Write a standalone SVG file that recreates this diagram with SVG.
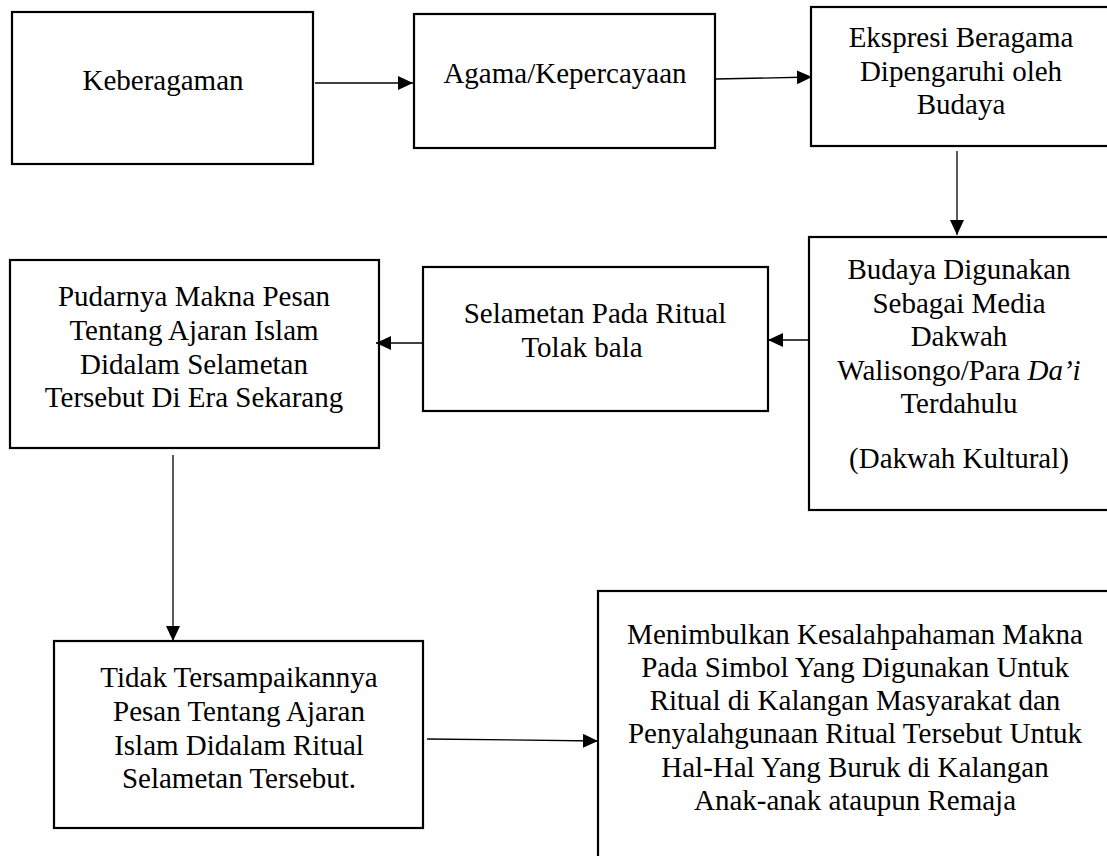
<svg xmlns="http://www.w3.org/2000/svg" width="1107" height="856" viewBox="0 0 1107 856">
<style>
.box{fill:#fff;stroke:#000;stroke-width:2.2}
.t{font-family:'Liberation Serif','Times New Roman',Times,'DejaVu Serif',serif;font-size:29px;fill:#000;text-anchor:middle}
.c{stroke:#000;stroke-width:1.3;fill:none;marker-end:url(#ah)}
</style>
<defs>
<marker id="ah" markerUnits="userSpaceOnUse" markerWidth="16" markerHeight="16" refX="15" refY="7" orient="auto">
<path d="M0,0 L15,7 L0,14 z" fill="#000"/>
</marker>
</defs>
<g id="n1"><rect class="box" x="12" y="12" width="301" height="152"/><text class="t" x="163" y="90">Keberagaman</text></g>
<g id="n2"><rect class="box" x="414" y="14" width="301" height="134"/><text class="t" x="565" y="83">Agama/Kepercayaan</text></g>
<g id="n3"><rect class="box" x="811" y="7" width="305" height="139"/><text class="t"><tspan x="961" y="47">Ekspresi Beragama</tspan><tspan x="961" y="81">Dipengaruhi oleh</tspan><tspan x="961" y="114">Budaya</tspan></text></g>
<g id="n4"><rect class="box" x="809" y="237" width="305" height="273"/><text class="t"><tspan x="959" y="279">Budaya Digunakan</tspan><tspan x="959" y="313">Sebagai Media</tspan><tspan x="959" y="346">Dakwah</tspan><tspan x="959" y="380">Walisongo/Para <tspan font-style="italic">Da’i</tspan></tspan><tspan x="959" y="413">Terdahulu</tspan><tspan x="959" y="468">(Dakwah Kultural)</tspan></text></g>
<g id="n5"><rect class="box" x="423" y="267" width="345" height="144"/><text class="t"><tspan x="595" y="323">Selametan Pada Ritual</tspan><tspan x="582" y="357">Tolak bala</tspan></text></g>
<g id="n6"><rect class="box" x="10" y="260" width="369" height="188"/><text class="t"><tspan x="194" y="306">Pudarnya Makna Pesan</tspan><tspan x="194" y="340">Tentang Ajaran Islam</tspan><tspan x="194" y="374">Didalam Selametan</tspan><tspan x="194" y="407">Tersebut Di Era Sekarang</tspan></text></g>
<g id="n7"><rect class="box" x="54" y="641" width="369" height="187"/><text class="t"><tspan x="239" y="687">Tidak Tersampaikannya</tspan><tspan x="239" y="721">Pesan Tentang Ajaran</tspan><tspan x="239" y="755">Islam Didalam Ritual</tspan><tspan x="239" y="788">Selametan Tersebut.</tspan></text></g>
<g id="n8"><rect class="box" x="598" y="591" width="520" height="280"/><text class="t"><tspan x="855" y="644">Menimbulkan Kesalahpahaman Makna</tspan><tspan x="855" y="677">Pada Simbol Yang Digunakan Untuk</tspan><tspan x="855" y="710">Ritual di Kalangan Masyarakat dan</tspan><tspan x="855" y="743">Penyalahgunaan Ritual Tersebut Untuk</tspan><tspan x="855" y="777">Hal-Hal Yang Buruk di Kalangan</tspan><tspan x="855" y="810">Anak-anak ataupun Remaja</tspan></text></g>
<g id="connectors">
<line class="c" x1="315" y1="83" x2="413" y2="83"/>
<line class="c" x1="716" y1="79" x2="812" y2="77"/>
<line class="c" x1="957" y1="151" x2="957" y2="235"/>
<line class="c" x1="809" y1="340" x2="768" y2="340"/>
<line class="c" x1="423" y1="343" x2="376" y2="343"/>
<line class="c" x1="173" y1="455" x2="173" y2="641"/>
<line class="c" x1="427" y1="739" x2="598" y2="741"/>
</g>
</svg>
